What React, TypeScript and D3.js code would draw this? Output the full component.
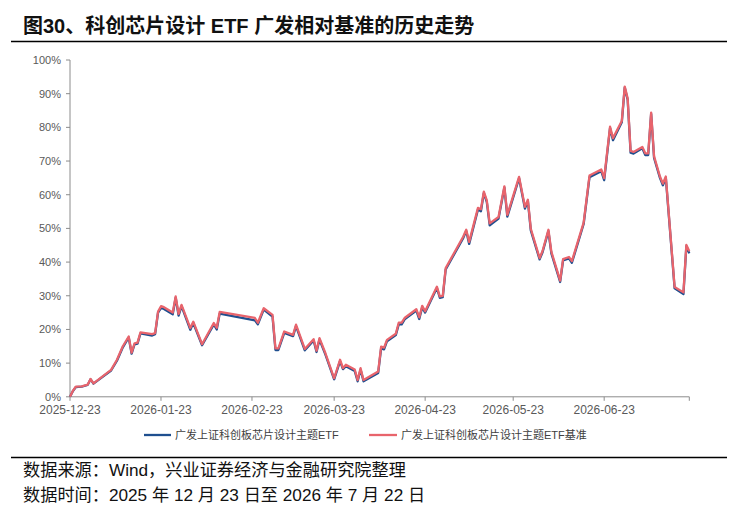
import * as React from "react";
import { scaleLinear, scaleTime, line as d3Line, timeParse } from "d3";

// benchmark (red) and ETF (blue), cumulative return in %
const dates = [
  "2025-12-23", "2025-12-24", "2025-12-25", "2025-12-27", "2025-12-29", "2025-12-30", "2025-12-31",
  "2026-01-06", "2026-01-08", "2026-01-10", "2026-01-12", "2026-01-13", "2026-01-14", "2026-01-15",
  "2026-01-16", "2026-01-20", "2026-01-21", "2026-01-22", "2026-01-23", "2026-01-24", "2026-01-27",
  "2026-01-28", "2026-01-29", "2026-01-30", "2026-02-02", "2026-02-03", "2026-02-06", "2026-02-10",
  "2026-02-11", "2026-02-12", "2026-02-24", "2026-02-25", "2026-02-27", "2026-03-02", "2026-03-03",
  "2026-03-04", "2026-03-06", "2026-03-09", "2026-03-10", "2026-03-13", "2026-03-16", "2026-03-17",
  "2026-03-18", "2026-03-20", "2026-03-23", "2026-03-25", "2026-03-26", "2026-03-27", "2026-03-30",
  "2026-03-31", "2026-04-01", "2026-04-02", "2026-04-07", "2026-04-08", "2026-04-09", "2026-04-10",
  "2026-04-13", "2026-04-14", "2026-04-15", "2026-04-16", "2026-04-20", "2026-04-21", "2026-04-22",
  "2026-04-23", "2026-04-27", "2026-04-28", "2026-04-29", "2026-04-30", "2026-05-06", "2026-05-07",
  "2026-05-08", "2026-05-11", "2026-05-12", "2026-05-13", "2026-05-14", "2026-05-15", "2026-05-18",
  "2026-05-20", "2026-05-21", "2026-05-25", "2026-05-27", "2026-05-28", "2026-05-29", "2026-06-01",
  "2026-06-02", "2026-06-04", "2026-06-05", "2026-06-08", "2026-06-09", "2026-06-11", "2026-06-12",
  "2026-06-16", "2026-06-18", "2026-06-22", "2026-06-23", "2026-06-25", "2026-06-26", "2026-06-29",
  "2026-06-30", "2026-07-01", "2026-07-02", "2026-07-03", "2026-07-06", "2026-07-07", "2026-07-08",
  "2026-07-09", "2026-07-10", "2026-07-12", "2026-07-13", "2026-07-14", "2026-07-17", "2026-07-20",
  "2026-07-21", "2026-07-22",
];

const benchValues = [
  0, 1.8, 3.0, 3.1, 3.6, 5.3, 4.0,
  8.0, 11.0, 15.0, 17.9, 13.1, 15.9, 16.1,
  19.1, 18.6, 18.9, 25.3, 26.9, 26.6, 25.0,
  29.8, 24.6, 27.3, 20.4, 22.3, 15.6, 21.9,
  20.5, 25.2, 23.4, 22.0, 26.3, 24.3, 14.4,
  14.4, 19.4, 18.4, 21.4, 14.2, 17.1, 13.7,
  17.4, 13.0, 5.5, 11.0, 8.5, 9.5, 8.1,
  5.0, 8.5, 5.0, 7.5, 14.9, 14.6, 16.9,
  18.7, 22.0, 22.0, 23.4, 26.0, 23.6, 27.0,
  25.4, 32.7, 29.8, 30.0, 38.2, 47.6, 49.6,
  46.0, 56.1, 55.7, 60.9, 58.3, 51.5, 53.4,
  62.5, 54.0, 65.3, 56.4, 58.5, 49.9, 41.2,
  43.3, 49.6, 43.1, 34.5, 40.9, 41.5, 40.3,
  51.7, 65.7, 67.5, 64.9, 80.2, 76.8, 81.9,
  92.1, 88.6, 73.0, 72.7, 74.2, 72.3, 72.3,
  84.4, 71.4, 65.4, 63.3, 65.4, 32.6, 31.0,
  45.1, 43.2,
];

const etfValues = [
  0, 1.7, 2.9, 3.0, 3.5, 5.2, 3.9,
  7.8, 10.7, 14.7, 17.6, 12.8, 15.6, 15.8,
  18.8, 18.2, 18.6, 25.0, 26.4, 26.1, 24.5,
  29.4, 24.1, 26.9, 19.9, 21.9, 15.3, 21.5,
  20.0, 24.7, 22.7, 21.5, 25.9, 23.8, 13.9,
  13.9, 19.0, 18.0, 21.0, 13.8, 16.7, 13.3,
  17.0, 12.6, 5.2, 10.6, 8.2, 9.1, 7.7,
  4.6, 8.1, 4.6, 7.1, 14.4, 14.1, 16.5,
  18.3, 21.5, 21.5, 23.0, 25.6, 23.1, 26.6,
  25.0, 32.3, 29.4, 29.6, 37.8, 47.2, 49.2,
  45.4, 55.6, 55.1, 60.5, 57.9, 50.9, 52.9,
  62.1, 53.5, 64.9, 55.9, 58.1, 49.4, 40.8,
  42.9, 49.2, 42.6, 34.1, 40.5, 41.1, 39.8,
  51.3, 65.2, 67.0, 64.3, 79.8, 76.2, 81.5,
  91.8, 88.2, 72.5, 72.2, 73.8, 71.8, 71.8,
  84.0, 70.9, 65.0, 62.8, 65.0, 32.2, 30.5,
  44.7, 42.6,
];

const xTickLabels = [
  "2025-12-23", "2026-01-23", "2026-02-23", "2026-03-23",
  "2026-04-23", "2026-05-23", "2026-06-23", "2026-07-22",
];
const yTicks = [0, 10, 20, 30, 40, 50, 60, 70, 80, 90, 100];

const seriesNames = ["广发上证科创板芯片设计主题ETF", "广发上证科创板芯片设计主题ETF基准"];

const title = "图30、科创芯片设计 ETF 广发相对基准的历史走势";
const sourceNote = "数据来源：Wind，兴业证券经济与金融研究院整理";
const timeNote = "数据时间：2025 年 12 月 23 日至 2026 年 7 月 22 日";

const BLUE = "#1f4f8f";
const RED = "#e8646c";
const AXIS = "#8c8c8c";
const FONT = "'Liberation Sans', Arial, 'Noto Sans CJK SC', sans-serif";

interface Pt {
  date: Date;
  value: number;
}

const App = () => {
  const parse = timeParse("%Y-%m-%d");
  const left = 70;
  const right = 689.3;
  const top = 60;
  const bottom = 396.8;

  const x = scaleTime()
    .domain([parse("2025-12-23") as Date, parse("2026-07-22") as Date])
    .range([left, right]);
  const y = scaleLinear().domain([0, 100]).range([bottom, top]);

  const bench: Pt[] = dates.map((d, i) => ({ date: parse(d) as Date, value: benchValues[i] }));
  const etf: Pt[] = dates.map((d, i) => ({ date: parse(d) as Date, value: etfValues[i] }));

  const line = d3Line<Pt>()
    .x(d => x(d.date))
    .y(d => y(d.value));

  return (
    <div style={{ position: "absolute", left: 0, top: 0 }}>
      <svg width={748} height={526} style={{ display: "block", background: "#fff" }} fontFamily={FONT}>
        <text x={23} y={33} fontSize={20} fontWeight="bold" fill="#111">
          {title}
        </text>
        <line x1={11} x2={727} y1={41.5} y2={41.5} stroke="#000" strokeWidth={1.3} />

        {/* y axis */}
        <line x1={left} x2={left} y1={top} y2={bottom} stroke={AXIS} strokeWidth={1} />
        {yTicks.map(t => (
          <g key={t}>
            <line x1={left - 4} x2={left} y1={y(t)} y2={y(t)} stroke={AXIS} />
            <text x={61} y={y(t)} dy="0.35em" textAnchor="end" fontSize={11} fill="#595959">
              {t}%
            </text>
          </g>
        ))}

        {/* x axis */}
        <line x1={left} x2={right} y1={bottom} y2={bottom} stroke={AXIS} strokeWidth={1} />
        {xTickLabels.map((t, i) => {
          const xx = x(parse(t) as Date);
          return (
            <g key={t}>
              <line x1={xx} x2={xx} y1={bottom} y2={bottom + 4} stroke={AXIS} />
              {i < xTickLabels.length - 1 && (
                <text x={xx} y={414} textAnchor="middle" fontSize={12} fill="#595959">
                  {t}
                </text>
              )}
            </g>
          );
        })}

        <path d={line(etf) || ""} fill="none" stroke={BLUE} strokeWidth={2.3} strokeLinejoin="round" />
        <path d={line(bench) || ""} fill="none" stroke={RED} strokeWidth={2.3} strokeLinejoin="round" />

        {/* legend */}
        <line x1={144} x2={171} y1={435} y2={435} stroke={BLUE} strokeWidth={2.3} />
        <text x={175} y={435} dy="0.35em" fontSize={11} fill="#404040">
          {seriesNames[0]}
        </text>
        <line x1={369} x2={397} y1={435} y2={435} stroke={RED} strokeWidth={2.3} />
        <text x={401} y={435} dy="0.35em" fontSize={11} fill="#404040">
          {seriesNames[1]}
        </text>

        <line x1={11} x2={727} y1={457.5} y2={457.5} stroke="#000" strokeWidth={1.3} />
        <text x={23} y={476} fontSize={17.2} fill="#111">
          {sourceNote}
        </text>
        <text x={23} y={501} fontSize={17.2} fill="#111">
          {timeNote}
        </text>
      </svg>
    </div>
  );
};

export default App;
